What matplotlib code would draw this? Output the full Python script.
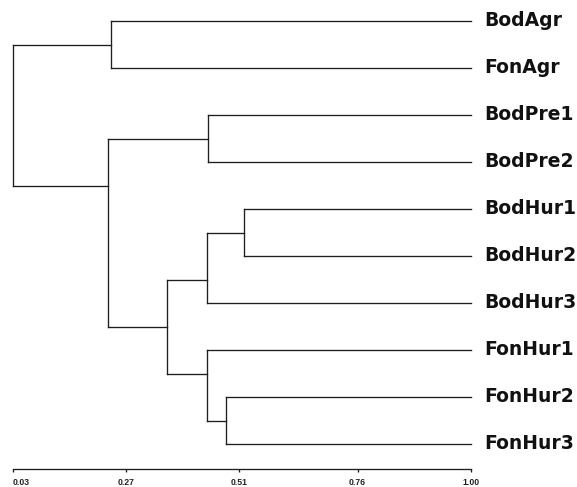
import matplotlib
matplotlib.use("Agg")
import matplotlib.pyplot as plt

# ---- data ----
leaves = ["BodAgr", "FonAgr", "BodPre1", "BodPre2", "BodHur1",
          "BodHur2", "BodHur3", "FonHur1", "FonHur2", "FonHur3"]
# merges: (child_a, child_b, similarity); new node ids start at len(leaves)
merge_a = [4, 8, 2, 10, 7, 13, 0, 12, 16]
merge_b = [5, 9, 3, 6, 11, 14, 1, 15, 17]
merge_h = [0.520, 0.482, 0.443, 0.441, 0.441, 0.356, 0.238, 0.231, 0.032]
tick_values = [0.03, 0.27, 0.51, 0.76, 1.00]
tick_labels = ["0.03", "0.27", "0.51", "0.76", "1.00"]
leaf_level = 1.00

# ---- figure ----
W, H = 577, 487
fig = plt.figure(figsize=(W / 100, H / 100), dpi=100)
ax_left_px, ax_right_px = 12.5, 471.0
ax_bottom_px = 469.0
ax = fig.add_axes([ax_left_px / W, (H - ax_bottom_px) / H,
                   (ax_right_px - ax_left_px) / W, ax_bottom_px / H])
ax.set_xlim(tick_values[0], tick_values[-1])
# leaf spacing 47 px, first leaf at 21 px from top
spacing = 47.0
top_idx = -21.0 / spacing
bottom_idx = (ax_bottom_px - 21.0) / spacing
ax.set_ylim(bottom_idx, top_idx)

# layout
ypos = {i: float(i) for i in range(len(leaves))}
xpos = {i: leaf_level for i in range(len(leaves))}
count = {i: 1 for i in range(len(leaves))}
col = "#1e1e1e"
lw = 0.95
nid = len(leaves)
for a, b, h in zip(merge_a, merge_b, merge_h):
    na, nb = count[a], count[b]
    y = (nb * ypos[a] + na * ypos[b]) / (na + nb)
    for c in (a, b):
        ax.plot([xpos[c], h], [ypos[c], ypos[c]], color=col, lw=lw,
                solid_capstyle="projecting", clip_on=False)
    ax.plot([h, h], [ypos[a], ypos[b]], color=col, lw=lw,
            solid_capstyle="projecting", clip_on=False)
    ypos[nid] = y
    xpos[nid] = h
    count[nid] = na + nb
    nid += 1

# leaf labels
for i, name in enumerate(leaves):
    ax.annotate(name, xy=(leaf_level, i), xytext=(13, 0.5),
                textcoords="offset pixels", ha="left", va="center",
                fontsize=13.5, fontweight="bold", family="DejaVu Sans",
                color="#111111", annotation_clip=False)

# axes styling
for s in ("top", "right", "left"):
    ax.spines[s].set_visible(False)
ax.spines["bottom"].set_color(col)
ax.spines["bottom"].set_linewidth(lw)
ax.set_yticks([])
ax.set_xticks(tick_values)
ax.set_xticklabels(tick_labels, fontsize=6.2, family="Liberation Sans",
                   fontweight="bold", color="#222222")
ax.tick_params(axis="x", direction="out", length=2.5, width=lw,
               color=col, pad=4)
ax.get_xticklabels()[0].set_horizontalalignment("left")
ax.patch.set_alpha(0)

fig.savefig("out.png", dpi=100, facecolor="white")
